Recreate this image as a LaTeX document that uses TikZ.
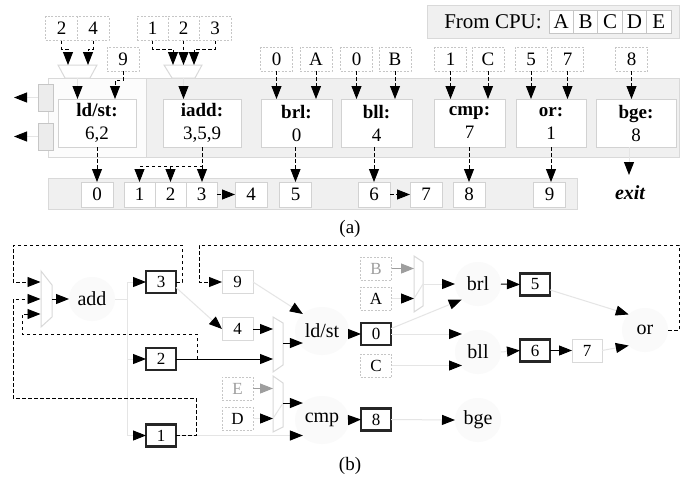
\documentclass[tikz,border=0pt]{standalone}
\usepackage{fontspec}
\setmainfont{Liberation Serif}
\usetikzlibrary{arrows.meta,shapes.geometric}
\begin{document}
\begin{tikzpicture}[x=1pt,y=-1pt,
  every node/.style={inner sep=0pt,outer sep=0pt},
  fa/.style={font=\fontsize{19}{23}\selectfont},
  fb/.style={font=\fontsize{17}{20}\selectfont},
  fc/.style={font=\fontsize{20}{24}\selectfont},
  band/.style={draw=gray!30,fill=gray!12,line width=1pt},
  cell/.style={draw=gray!35,fill=white,line width=1pt,minimum width=32pt,minimum height=25pt,fa},
  cpucell/.style={draw=gray!45,fill=white,line width=1pt,minimum width=24.4pt,minimum height=23pt,font=\fontsize{21}{24}\selectfont},
  inbox/.style={draw=gray!45,dash pattern=on 2pt off 1.5pt,fill=white,line width=0.8pt,minimum width=32pt,minimum height=24pt,fa},
  opbox/.style={draw=gray!35,fill=white,line width=1pt,minimum height=48pt,align=center,fa},
  portbox/.style={draw=gray!45,fill=gray!15,line width=1pt,minimum width=15pt,minimum height=27pt},
  mux/.style={draw=gray!30,fill=white,line width=1pt},
  tipb/.style={-{Triangle[length=13pt,width=10pt,color=black]}},
  darr/.style={tipb,line width=0.9pt,dash pattern=on 3.5pt off 2.5pt},
  garr/.style={tipb,draw=gray!20,line width=1pt},
  garrg/.style={-{Triangle[length=13pt,width=10pt,color=black!38]},draw=black!38,line width=1pt},
  gline/.style={draw=gray!20,line width=1pt},
  barr/.style={tipb,line width=1pt},
  tbox/.style={draw=black!85,line width=2.4pt,fill=white,minimum width=30pt,minimum height=22pt,fb},
  lbox/.style={draw=gray!30,line width=1pt,fill=white,minimum width=31pt,minimum height=23pt,fb},
  dbox/.style={draw=gray!45,dash pattern=on 2pt off 1.5pt,line width=0.8pt,fill=white,minimum width=31pt,minimum height=23pt,fb},
  ell/.style={ellipse,fill=gray!4,minimum width=46pt,minimum height=44pt,fc},
  wide/.style={ellipse,fill=gray!4,minimum width=54pt,minimum height=48pt,fc}
]
\fill[white] (0,0) rectangle (688,480);
\useasboundingbox (0,0) rectangle (688,480);

% ---------------- (a) ----------------
\node[band,minimum width=252pt,minimum height=33pt] (cpu) at (553,21.5) {};
\node[font=\fontsize{21}{24}\selectfont] (fromcpu) at (493,21.5) {From CPU:};
\node[cpucell] (cA) at (561.2,21.5) {A};
\node[cpucell] (cB) at (585.6,21.5) {B};
\node[cpucell] (cC) at (610,21.5) {C};
\node[cpucell] (cD) at (634.4,21.5) {D};
\node[cpucell] (cE) at (658.8,21.5) {E};

\node[band,minimum width=631pt,minimum height=79pt] (bandA) at (363.5,117.5) {};
\node[draw=gray!30,fill=gray!2,line width=1pt,minimum width=98pt,minimum height=79pt] (ldzone) at (97,117.5) {};
\node[portbox] (port1) at (45.5,97.5) {};
\node[portbox] (port2) at (45.5,136.5) {};
\coordinate (out1) at (14,97.5);
\coordinate (out2) at (14,136.5);
\draw[garr] (port1.west) -- (out1);
\draw[garr] (port2.west) -- (out2);

% input boxes
\node[inbox] (i2a) at (61.5,28.5) {2};
\node[inbox] (i4) at (93,28.5) {4};
\node[inbox,minimum width=31pt] (i1) at (152.5,28.5) {1};
\node[inbox,minimum width=31pt] (i2b) at (183.5,28.5) {2};
\node[inbox] (i3) at (215,28.5) {3};
\node[inbox] (i9) at (123,59) {9};
\node[inbox] (ib0) at (276.5,59) {0};
\node[inbox] (iA) at (316,59) {A};
\node[inbox] (ic0) at (356.5,59) {0};
\node[inbox] (iB) at (395,59) {B};
\node[inbox] (id1) at (450.5,59) {1};
\node[inbox] (iC) at (488,59) {C};
\node[inbox] (i5) at (531,59) {5};
\node[inbox] (i7) at (567.5,59) {7};
\node[inbox] (i8) at (631.5,59) {8};

% muxes (a)
\draw[mux] (58,65) -- (97,65) -- (90,78) -- (65,78) -- cycle;
\draw[mux] (164,65) -- (202,65) -- (195,78) -- (172,78) -- cycle;
\coordinate (mAi1) at (68,65);
\coordinate (mAi2) at (88,65);
\coordinate (mBi1) at (173,65);
\coordinate (mBi2) at (183.5,65);
\coordinate (mBi3) at (194,65);
\coordinate (mAo) at (77.5,78);
\coordinate (mBo) at (183.5,78);

% operation boxes
\node[opbox,minimum width=78pt] (ldst) at (97,123) {\textbf{ld/st:}\\6,2};
\node[opbox,minimum width=78pt] (iadd) at (202,123) {\textbf{iadd:}\\3,5,9};
\node[opbox,minimum width=71pt] (brl) at (296.5,123) {\textbf{brl:}\\0};
\node[opbox,minimum width=71pt] (bll) at (376.5,123) {\textbf{bll:}\\4};
\node[opbox,minimum width=71pt] (cmp) at (469.5,123) {\textbf{cmp:}\\7};
\node[opbox,minimum width=70pt] (or) at (551,123) {\textbf{or:}\\1};
\node[opbox,minimum width=80pt] (bge) at (636,123) {\textbf{bge:}\\8};

\draw[darr] (i2a.south) -- ++(0,8.5) -| (mAi1);
\draw[darr] (i4.south) -- ++(0,8.5) -| (mAi2);
\draw[darr] (i1.south) -- ++(0,8.5) -| (mBi1);
\draw[darr] (i2b.south) -- (mBi2);
\draw[darr] (i3.south) -- ++(0,8.5) -| (mBi3);
\draw[garr] (mAo) -- (mAo |- ldst.north);
\draw[garr] (mBo) -- (mBo |- iadd.north);
\coordinate (ld9) at (115,99);
\draw[darr] (i9.south) -- ++(0,9) -| (ld9);
\draw[darr] (ib0.south) -- (ib0.south |- brl.north);
\draw[darr] (iA.south) -- (iA.south |- brl.north);
\draw[darr] (ic0.south) -- (ic0.south |- bll.north);
\draw[darr] (iB.south) -- (iB.south |- bll.north);
\draw[darr] (id1.south) -- (id1.south |- cmp.north);
\draw[darr] (iC.south) -- (iC.south |- cmp.north);
\draw[darr] (i5.south) -- (i5.south |- or.north);
\draw[darr] (i7.south) -- (i7.south |- or.north);
\draw[darr] (i8.south) -- (i8.south |- bge.north);

% result band
\node[band,minimum width=529pt,minimum height=31pt] (bandB) at (312.5,193.5) {};
\node[cell] (c0) at (97,194.5) {0};
\node[cell,minimum width=31pt] (c1) at (139.5,194.5) {1};
\node[cell,minimum width=31pt] (c2) at (170.5,194.5) {2};
\node[cell,minimum width=31pt] (c3) at (201.5,194.5) {3};
\node[cell] (c4) at (251,194.5) {4};
\node[cell] (c5) at (295.5,194.5) {5};
\node[cell] (c6) at (374,194.5) {6};
\node[cell] (c7) at (426,194.5) {7};
\node[cell] (c8) at (469,194.5) {8};
\node[cell] (c9) at (549.5,194.5) {9};

\draw[darr] (ldst.south) -- (c0.north);
\draw[darr] (iadd.south) -- (iadd.south |- c3.north);
\draw[darr] (iadd.south) -- ++(0,19) -| (c1.north);
\draw[darr] (c2.north) ++(0,-16) -- (c2.north);
\draw[darr] (c5.north |- brl.south) -- (c5.north);
\draw[darr] (c6.north |- bll.south) -- (c6.north);
\draw[darr] (c8.north |- cmp.south) -- (c8.north);
\draw[darr] (or.south) -- (or.south |- c9.north);
\draw[darr] (c3.east) -- (c4.west);
\draw[darr] (c6.east) -- (c7.west);
\coordinate (exittip) at (629,175);
\draw[garr] (exittip |- bge.south) -- (exittip);
\node[font=\fontsize{20}{24}\selectfont\bfseries\itshape] (exit) at (630,193) {exit};
\node[fa] (la) at (350,229) {(a)};

% ---------------- (b) ----------------
\draw[mux] (41,271) -- (52,285) -- (52,317) -- (41,327) -- cycle;
\coordinate (m1a) at (40.5,282);
\coordinate (m1b) at (40.5,299);
\coordinate (m1c) at (40.5,314);
\coordinate (m1o) at (52,299);
\node[ell] (add) at (92,299) {add};
\draw[barr] (m1o) -- (add.west);

\node[tbox] (n3) at (161,282) {3};
\node[tbox] (n2) at (161,359) {2};
\node[tbox] (n1) at (161,435.5) {1};
\coordinate (busA) at (127,299);
\coordinate (bus3) at (127,282);
\coordinate (bus2) at (127,359);
\coordinate (bus1) at (127,435.5);
\draw[gline] (add.east) -- (busA);
\draw[gline] (bus3) -- (bus1);
\draw[garr] (bus3) -- (n3.west);
\draw[garr] (bus2) -- (n2.west);
\draw[garr] (bus1) -- (n1.west);

\node[lbox] (n9) at (237.5,282) {9};
\node[lbox] (n4) at (237.5,329) {4};
\node[dbox,text=black!38] (nE) at (237.5,388.5) {E};
\node[dbox] (nD) at (237.5,418.5) {D};

\draw[mux] (273,317) -- (283,323) -- (283,365) -- (273,372) -- cycle;
\coordinate (m2a) at (273,329);
\coordinate (m2b) at (273,359);
\coordinate (m2o) at (283,343);
\draw[mux] (273,376) -- (283,383) -- (283,427) -- (273,432) -- cycle;
\coordinate (m4a) at (273,388.5);
\coordinate (m4b) at (273,418.5);
\coordinate (m4o) at (283,403);

\node[wide] (ldsto) at (322,331) {ld/st};
\node[wide] (cmpo) at (322,420) {cmp};

\draw[garr] (n3.-20) -- (n4.west);
\draw[garr] (n9.east) -- (ldsto.north west);
\draw[barr] (n4.east) -- (m2a);
\draw[barr] (n2.east) -- (m2b);
\draw[barr] (m2o) -- (m2o -| ldsto.south west);
\draw[garrg] (nE.east) -- (m4a);
\draw[garr] (nD.east) -- (m4b);
\draw[gline] (m4b) -- (m4o);
\draw[barr] (m4o) -- (m4o -| cmpo.north west);
\draw[garr] (n1.east) -- (n1.east -| cmpo.south west);

\node[tbox] (n0) at (376,334) {0};
\node[dbox,text=black!38] (nB) at (376,268.5) {B};
\node[dbox] (nA) at (376,298.5) {A};
\node[dbox] (nC) at (376,365.5) {C};
\node[tbox] (n8) at (376,419.5) {8};
\draw[barr] (n0.west -| ldsto.east) -- (n0.west);
\draw[barr] (cmpo.east) -- (n8.west);

\draw[mux] (414,256) -- (423,262) -- (423,306) -- (414,312) -- cycle;
\coordinate (m3a) at (414,268.5);
\coordinate (m3b) at (414,298.5);
\coordinate (m3o) at (423,284);
\draw[garrg] (nB.east) -- (m3a);
\draw[garr] (nA.east) -- (m3b);
\draw[gline] (m3b) -- (m3o);

\node[ell] (brlo) at (478,284) {brl};
\node[ell] (bllo) at (478,352) {bll};
\node[ell] (bgeo) at (478,420) {bge};
\coordinate (bll1) at (462,334);
\coordinate (bll2) at (462,365.5);
\draw[garr] (m3o) -- (brlo.west);
\draw[garr] (n0.20) -- (brlo.south west);
\draw[garr] (n0.east) -- (bll1);
\draw[garr] (nC.east) -- (bll2);
\draw[garr] (n8.east) -- (bgeo.west);

\node[tbox] (n5) at (535,284.5) {5};
\node[tbox] (n6) at (535,350.5) {6};
\node[lbox,minimum width=30pt] (n7) at (587,350.5) {7};
\node[ell] (oro) at (645,330) {or};
\draw[barr] (brlo.east) -- (n5.west);
\draw[garr] (bllo.east) -- (n6.west);
\draw[barr] (n6.east) -- (n7.west);
\draw[garr] (n5.-20) -- (oro.north west);
\draw[garr] (n7.east) -- (oro.south west);

% dashed feedback paths
\draw[darr] (n3.east) -- ++(6,0) |- (13,245) |- (m1a);
\draw[darr] (oro.east) -- (679,330) |- (199,245) |- (n9.west);
\coordinate (j2) at (197,359);
\draw[darr] (j2) |- (22,334) |- (m1c);
\draw[darr] (n1.east) -- ++(20,0) |- (13,398) |- (m1b);

\node[fa] (lb) at (350,466) {(b)};
\end{tikzpicture}
\end{document}
